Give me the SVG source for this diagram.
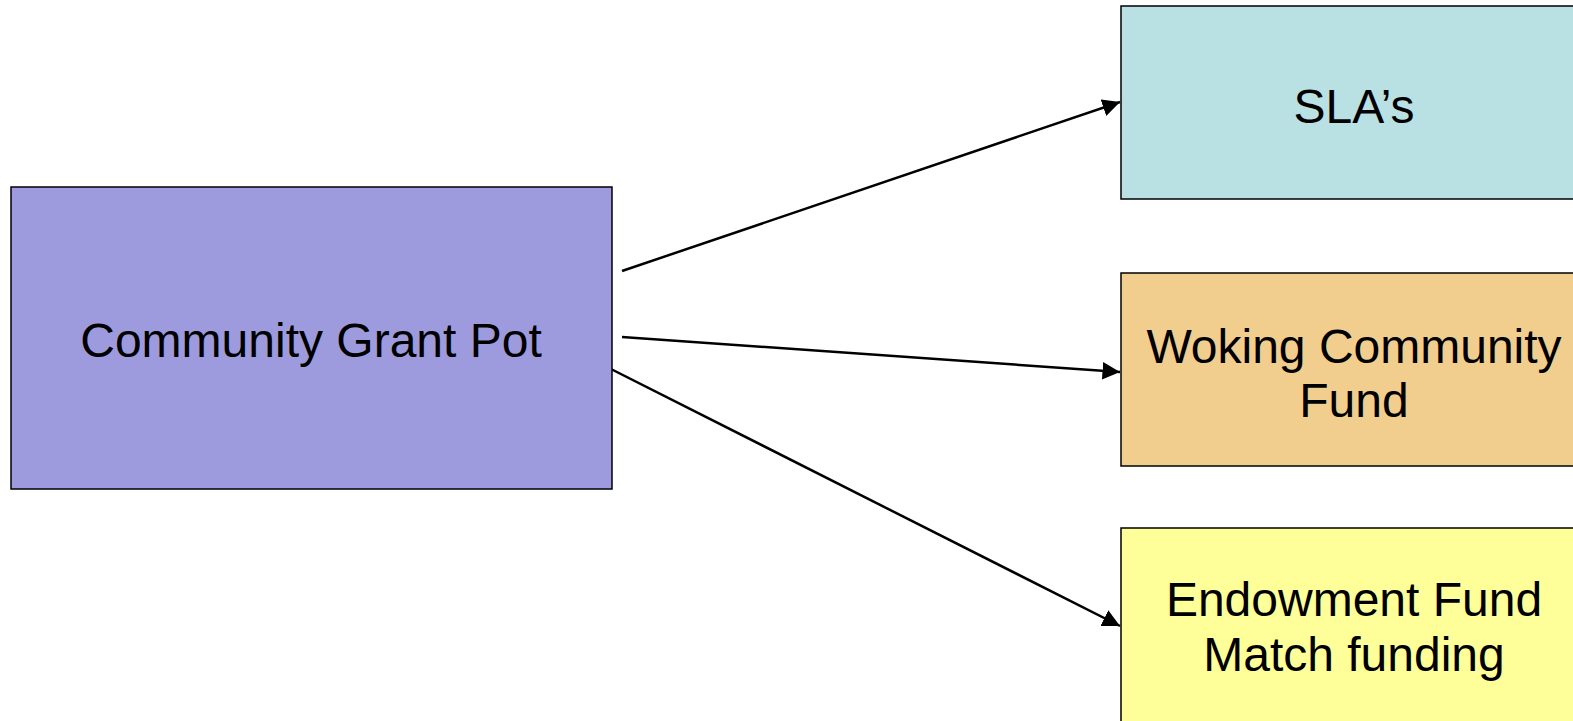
<svg xmlns="http://www.w3.org/2000/svg" width="1573" height="721" viewBox="0 0 1573 721">
<style>
.box{stroke:#000;stroke-width:1.5}
.t{font-family:"Liberation Sans",Arial,sans-serif;font-size:48px;fill:#000;text-anchor:middle}
.c{stroke:#000;stroke-width:2.5;fill:none;marker-end:url(#ah)}
</style>
<defs>
<marker id="ah" viewBox="0 0 10 10" refX="10" refY="5" markerWidth="7" markerHeight="7" markerUnits="strokeWidth" orient="auto">
<path d="M0,0 L10,5 L0,10 Z" fill="#000"/>
</marker>
</defs>
<rect width="1573" height="721" fill="#fff"/>
<g id="connectors">
<line class="c" x1="622" y1="271" x2="1120" y2="102"/>
<line class="c" x1="622" y1="337" x2="1120" y2="372"/>
<line class="c" x1="605" y1="366" x2="1120" y2="626"/>
</g>
<g id="community-grant-pot">
<rect class="box" x="11" y="187" width="601" height="302" fill="#9D9BDD"/>
<text class="t" x="311" y="357">Community Grant Pot</text>
</g>
<g id="slas">
<rect class="box" x="1121" y="6" width="470" height="193" fill="#B9E0E2"/>
<text class="t" x="1354" y="123">SLA’s</text>
</g>
<g id="woking-community-fund">
<rect class="box" x="1121" y="273" width="470" height="193" fill="#F1CD8E"/>
<text class="t" x="1354" y="363">Woking Community</text>
<text class="t" x="1354" y="417">Fund</text>
</g>
<g id="endowment-fund">
<rect class="box" x="1121" y="528" width="470" height="220" fill="#FFFF99"/>
<text class="t" x="1354" y="616">Endowment Fund</text>
<text class="t" x="1354" y="671">Match funding</text>
</g>
</svg>
